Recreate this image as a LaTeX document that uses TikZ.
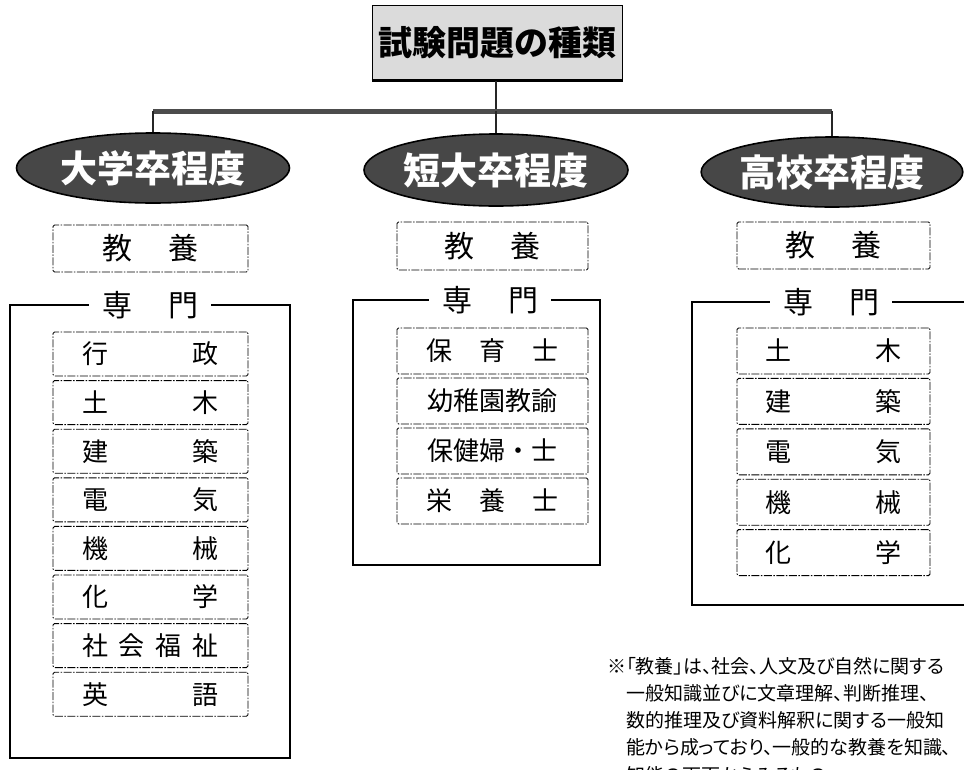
\documentclass[tikz,border=0pt]{standalone}
\usepackage{fontspec}
\newfontfamily\jp{Noto Sans CJK JP}
\newfontfamily\jpnote[RawFeature=+palt]{Noto Sans CJK JP}
\usetikzlibrary{shapes.geometric}
\begin{document}
\begin{tikzpicture}[x=1pt,y=-1pt,
  titlebox/.style={draw, line width=1pt, fill=black!14, minimum width=250pt, minimum height=75pt, inner sep=0pt,
    font=\jp\bfseries\fontsize{34}{34}\selectfont},
  link/.style={line width=1.6pt, draw=black!85},
  bar/.style={line width=5pt, draw=black!70},
  levelshape/.style={ellipse, draw=black, line width=1.6pt, fill=black!72, text=white, inner sep=0pt,
    font=\jp\bfseries\fontsize{37}{37}\selectfont},
  dbox/.style={draw, line width=0.9pt, dash pattern=on 8pt off 1.5pt on 1.5pt off 1.5pt, rounded corners=1.5pt,
    inner sep=0pt, font=\jp\fontsize{26}{26}\selectfont},
  basebox/.style={dbox, font=\jp\fontsize{30}{30}\selectfont},
  frame/.style={draw, line width=1.4pt, inner sep=0pt},
  grouplabel/.style={fill=white, inner xsep=13pt, inner ysep=2pt, font=\jp\fontsize{30}{30}\selectfont},
  note/.style={anchor=west, inner sep=0pt, font=\jpnote\fontsize{19}{19}\selectfont}
]
\useasboundingbox (0,0) rectangle (964,769);

% title
\node[titlebox] (t) at (497,42.5) {試験問題の種類};
\draw[line width=2.5pt] (t.south west) -- (t.south east);

% ellipses
\node[levelshape, minimum width=273pt, minimum height=70pt] (e1) at (153,168) {大学卒程度};
\node[levelshape, minimum width=264pt, minimum height=72pt] (e2) at (496,170) {短大卒程度};
\node[levelshape, minimum width=245pt, minimum height=70pt] (e3) at (832,172) {高校卒程度};

% connectors
\coordinate (bm) at (496,111);
\coordinate (bl) at (e1.north |- bm);
\coordinate (br) at (e3.north |- bm);
\draw[link] (t.south -| bm) -- (bm);
\draw[bar] (bl) -- (br);
\draw[link] (bl) -- (e1.north);
\draw[link] (bm) -- (e2.north);
\draw[link] (br) -- (e3.north);

% kyoyo boxes
\node[basebox, minimum width=195pt, minimum height=47pt] (k1) at (150.5,248.5) {教\hspace{36pt}養};
\node[basebox, minimum width=191pt, minimum height=48pt] (k2) at (492.5,246) {教\hspace{36pt}養};
\node[basebox, minimum width=193pt, minimum height=47pt] (k3) at (833.5,245.5) {教\hspace{36pt}養};

% frames
\node[frame, minimum width=280pt, minimum height=453pt] (f1) at (150,531.5) {};
\node[frame, minimum width=247pt, minimum height=265pt] (f2) at (476.5,432.5) {};
\node[frame, minimum width=290pt, minimum height=303pt] (f3) at (837,453.5) {};
\node[grouplabel] (g1) at (150,305) {専\hspace{36pt}門};
\node[grouplabel] (g2) at (490,300) {専\hspace{36pt}門};
\node[grouplabel] (g3) at (831,302) {専\hspace{36pt}門};

% left items
\begin{scope}[every node/.style={dbox, minimum width=195pt, minimum height=44pt}]
\node (a1) at (150.5,354) {行\hspace{84pt}政};
\node (a2) at (150.5,402.6) {土\hspace{84pt}木};
\node (a3) at (150.5,451.2) {建\hspace{84pt}築};
\node (a4) at (150.5,499.8) {電\hspace{84pt}気};
\node (a5) at (150.5,548.4) {機\hspace{84pt}械};
\node (a6) at (150.5,597) {化\hspace{84pt}学};
\node (a7) at (150.5,645.6) {社\hspace{11pt}会\hspace{11pt}福\hspace{11pt}祉};
\node (a8) at (150.5,694.2) {英\hspace{84pt}語};
\end{scope}

% middle items
\begin{scope}[every node/.style={dbox, minimum width=191pt, minimum height=46pt}]
\node (b1) at (492.5,351) {保\hspace{27pt}育\hspace{27pt}士};
\node (b2) at (492.5,401) {幼稚園教諭};
\node (b3) at (492.5,451) {保健婦・士};
\node (b4) at (492.5,501) {栄\hspace{27pt}養\hspace{27pt}士};
\end{scope}

% right items
\begin{scope}[every node/.style={dbox, minimum width=193pt, minimum height=46pt}]
\node (c1) at (833.5,351) {土\hspace{84pt}木};
\node (c2) at (833.5,401.4) {建\hspace{84pt}築};
\node (c3) at (833.5,451.8) {電\hspace{84pt}気};
\node (c4) at (833.5,502.2) {機\hspace{84pt}械};
\node (c5) at (833.5,552.6) {化\hspace{84pt}学};
\end{scope}

% note
\node[note] (n1) at (607,666) {※「教養」は、社会、人文及び自然に関する};
\node[note] (n2) at (626,693) {一般知識並びに文章理解、判断推理、};
\node[note] (n3) at (626,720) {数的推理及び資料解釈に関する一般知};
\node[note] (n4) at (626,747) {能から成っており、一般的な教養を知識、};
\node[note] (n5) at (626,775) {知能の両面からみるもの};
\end{tikzpicture}
\end{document}
